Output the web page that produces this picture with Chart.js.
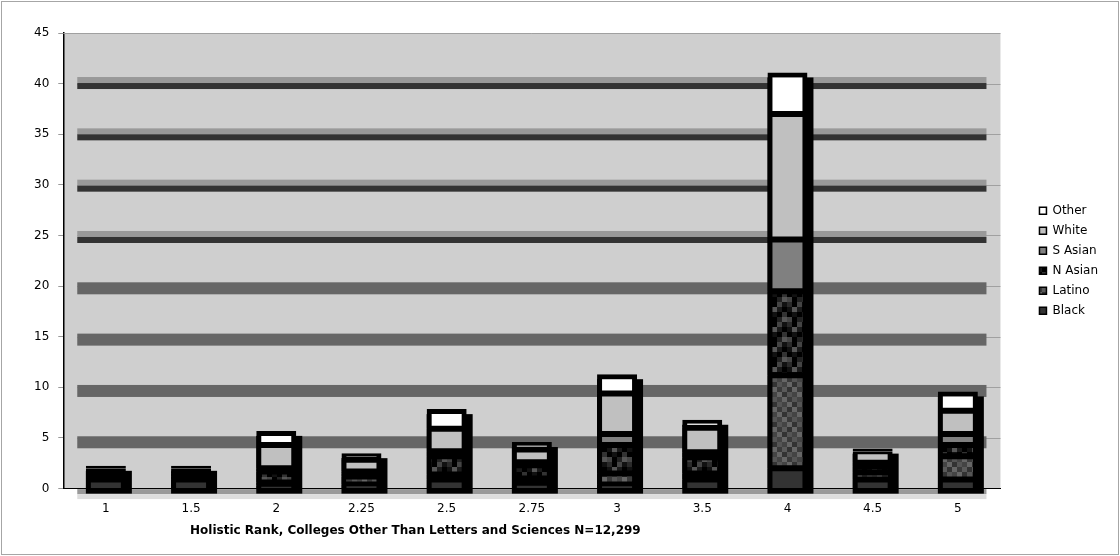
<!DOCTYPE html>
<html>
<head>
<meta charset="utf-8">
<title>Holistic Rank</title>
<script src="https://cdn.jsdelivr.net/npm/chart.js@4.4.1/dist/chart.umd.min.js"></script>
<style>
  body { margin: 0; background: #fff; }
  #frame { position: absolute; left: 1px; top: 1px; width: 1116px; height: 552px; border: 1px solid #a6a6a6; }
  #xTitle { position: absolute; left: 188px; top: 521px; font: bold 12px "DejaVu Sans"; color: #000; white-space: nowrap; }
</style>
</head>
<body>
<div id="frame">
  <canvas id="rankChart"></canvas>
  <div id="xTitle">Holistic Rank, Colleges Other Than Letters and Sciences N=12,299</div>
</div>
<script>
const ranks = ["1", "1.5", "2", "2.25", "2.5", "2.75", "3", "3.5", "4", "4.5", "5"];
const black  = [0.9, 0.9, 0.3, 0.4, 0.9, 0.5, 0.4, 0.9, 2.0, 0.9, 0.9];
const latino = [0.3, 0.3, 0.3, 0.8, 0.5, 0.5, 1.1, 0.6, 9.2, 0.7, 2.3];
const nAsian = [0.4, 0.3, 1.1, 0.3, 1.8, 1.3, 2.8, 1.6, 8.3, 0.6, 1.1];
const sAsian = [0.1, 0.2, 0.3, 0.2, 0.5, 0.3, 1.1, 0.5, 5.1, 0.35, 1.1];
const white  = [0.3, 0.3, 2.3, 1.15, 2.2, 1.25, 4.0, 2.4, 12.4, 1.15, 2.3];
const other  = [0.25, 0.25, 1.4, 0.65, 1.95, 0.75, 1.9, 0.8, 4.1, 0.25, 1.9];
const yMax = 45;
const yStep = 5;

Chart.defaults.font.family = '"DejaVu Sans"';
Chart.defaults.font.size = 12;
Chart.defaults.color = "#000";

// blocky fills for the two patterned series
function pixelPattern(rows, cell) {
  const c = document.createElement("canvas");
  c.width = rows[0].length * cell;
  c.height = rows.length * cell;
  const g = c.getContext("2d");
  rows.forEach((row, r) => row.forEach((col, k) => {
    g.fillStyle = col;
    g.fillRect(k * cell, r * cell, cell, cell);
  }));
  return g.createPattern(c, "repeat");
}

const nAsianFill = pixelPattern([
  ["#111", "#2a2a2a", "#000", "#444"],
  ["#000", "#111", "#555", "#1a1a1a"],
  ["#333", "#000", "#111", "#000"],
  ["#555", "#444", "#000", "#222"]
], 5);

const latinoFill = pixelPattern([
  ["#444", "#666", "#333", "#555"],
  ["#5a5a5a", "#333", "#666", "#3a3a3a"],
  ["#333", "#555", "#444", "#666"],
  ["#666", "#3a3a3a", "#555", "#444"]
], 5);

const edge = { top: 3, bottom: 3, left: 5, right: 5 };

// plot wall, heavy gridline bands, floor and the drop shadow behind each stack
const wallPlugin = {
  id: "wall",
  beforeDraw(chart) {
    const { ctx, chartArea: a } = chart;
    ctx.save();
    ctx.fillStyle = "#cfcfcf";
    ctx.fillRect(a.left, a.top, a.right - a.left, a.bottom - a.top);
    ctx.restore();
  },
  beforeDatasetsDraw(chart) {
    const { ctx, chartArea: a, scales: { y } } = chart;
    const inner = a.left + 14;
    const outer = a.right - 14;
    ctx.save();

    ctx.strokeStyle = "#a0a0a0";
    ctx.lineWidth = 1;
    y.ticks.forEach(t => {
      if (t.value === 0) return;
      const py = Math.round(y.getPixelForValue(t.value)) + 0.5;
      ctx.beginPath();
      ctx.moveTo(t.value === yMax ? a.left : inner, py);
      ctx.lineTo(a.right, py);
      ctx.stroke();
    });

    y.ticks.forEach(t => {
      const v = t.value;
      if (v === 0 || v === yMax) return;
      const top = y.getPixelForValue(v) - (1 + 0.14 * v);
      if (v >= 25) {
        ctx.fillStyle = "#999";
        ctx.fillRect(inner, top, outer - inner, 6);
        ctx.fillStyle = "#333";
        ctx.fillRect(inner, top + 6, outer - inner, 6);
      } else {
        ctx.fillStyle = "#666";
        ctx.fillRect(inner, top, outer - inner, 12);
      }
    });

    ctx.fillStyle = "#999";
    ctx.fillRect(inner, a.bottom + 0.5, outer - inner, 5);
    ctx.fillStyle = "#ddd";
    ctx.fillRect(inner, a.bottom + 5.5, outer - inner, 5);

    const base = y.getPixelForValue(0);
    ctx.fillStyle = "#000";
    ranks.forEach((_, j) => {
      let top = base, x = 0, w = 0;
      chart.data.datasets.forEach((ds, i) => {
        const el = chart.getDatasetMeta(i).data[j];
        if (el) {
          top = Math.min(top, el.y);
          x = el.x;
          w = el.width;
        }
      });
      ctx.fillRect(x - w / 2, top + 5, w + 6, base - top);
    });
    ctx.restore();
  }
};

const ctx = document.getElementById("rankChart").getContext("2d");
const rankChart = new Chart(ctx, {
  type: "bar",
  data: {
    labels: ranks,
    datasets: [
      { label: "Black",   data: black,  backgroundColor: "#333333", borderWidth: { top: 3, bottom: 0, left: 5, right: 5 } },
      { label: "Latino",  data: latino, backgroundColor: latinoFill, borderWidth: edge },
      { label: "N Asian", data: nAsian, backgroundColor: nAsianFill, borderWidth: edge },
      { label: "S Asian", data: sAsian, backgroundColor: "#808080", borderWidth: edge },
      { label: "White",   data: white,  backgroundColor: "#c0c0c0", borderWidth: edge },
      { label: "Other",   data: other,  backgroundColor: "#ffffff", borderWidth: { top: 5, bottom: 3, left: 5, right: 5 } }
    ].map(ds => Object.assign(ds, { borderColor: "#000", borderSkipped: false, barThickness: 40, inflateAmount: 0 }))
  },
  options: {
    animation: false,
    responsive: true,
    maintainAspectRatio: false,
    layout: { padding: { left: 23, top: 31, right: 10, bottom: 25 } },
    plugins: {
      legend: {
        position: "right",
        fullSize: false,
        reverse: true,
        labels: {
          boxWidth: 7,
          boxHeight: 7,
          padding: 8,
          color: "#000",
          generateLabels(chart) {
            return Chart.defaults.plugins.legend.labels.generateLabels(chart)
              .map(item => Object.assign(item, { lineWidth: 1.5, strokeStyle: "#000" }));
          }
        }
      },
      tooltip: { enabled: false }
    },
    scales: {
      x: {
        stacked: true,
        grid: { display: false, drawTicks: false },
        border: { display: true, color: "#000", width: 1 },
        ticks: { padding: 13, color: "#000" }
      },
      y: {
        stacked: true,
        min: 0,
        max: yMax,
        ticks: { stepSize: yStep, padding: 9, color: "#000" },
        grid: { drawOnChartArea: false, tickLength: 5, color: "#999" },
        border: { color: "#000", width: 1.5 }
      },
      gap: {
        type: "linear",
        position: "right",
        display: true,
        ticks: { display: false },
        grid: { display: false },
        border: { display: false },
        afterFit(scale) { scale.width = 31; }
      }
    }
  },
  plugins: [wallPlugin]
});
</script>
</body>
</html>
